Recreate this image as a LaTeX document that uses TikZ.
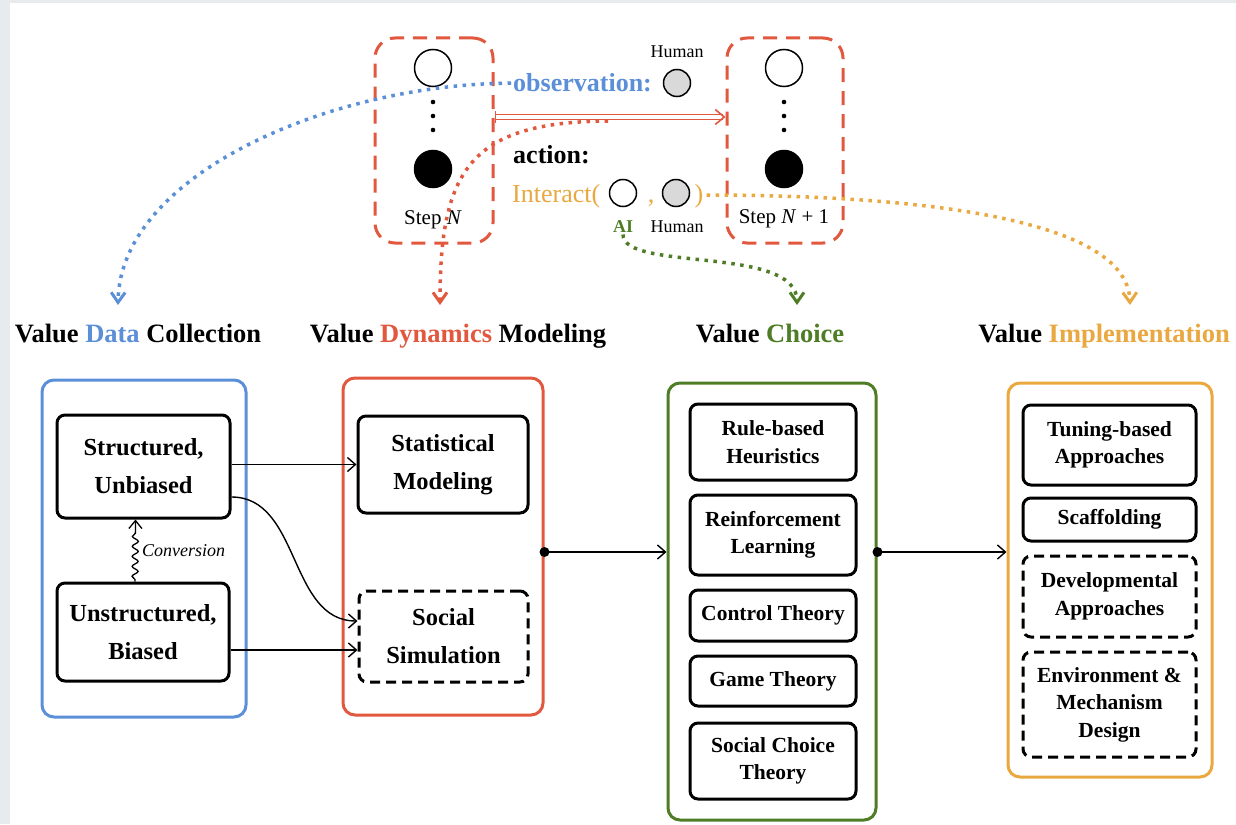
\documentclass[tikz,border=0pt]{standalone}
\usepackage{fontspec}
\setmainfont{Liberation Serif}[
  BoldFont={Liberation Serif Bold},
  ItalicFont={Liberation Serif Italic},
  BoldItalicFont={Liberation Serif Bold Italic}]
\usetikzlibrary{arrows.meta,decorations.pathmorphing}

\definecolor{vblue}{HTML}{5B8FD8}
\definecolor{vred}{HTML}{E2583F}
\definecolor{vgreen}{HTML}{4F7D26}
\definecolor{vorange}{HTML}{E9A840}
\definecolor{hgray}{HTML}{D9D9D9}
\definecolor{edgegray}{HTML}{E8EBEE}

\newcommand{\headfont}{\fontsize{26.5}{30}\selectfont\bfseries}
\newcommand{\bigboxfont}{\fontsize{24.5}{38}\selectfont\bfseries}
\newcommand{\smallboxfont}{\fontsize{21.5}{27.5}\selectfont\bfseries}
\newcommand{\toplabelfont}{\fontsize{26}{30}\selectfont}
\newcommand{\tinylabelfont}{\fontsize{18}{20}\selectfont}
\newcommand{\steplabelfont}{\fontsize{21}{24}\selectfont}

\tikzset{
  container/.style={draw=#1, line width=3pt, rounded corners=12pt, inner sep=0pt},
  item/.style={draw=black, line width=3pt, rounded corners=8pt, align=center, inner sep=0pt},
  dashitem/.style={item, dash pattern=on 10pt off 6pt},
  stepbox/.style={draw=vred, line width=3pt, rounded corners=20pt, dash pattern=on 14pt off 9pt, inner sep=0pt},
  flow/.style={line width=1.4pt, -{Straight Barb[length=8pt,width=14pt]}},
  trace/.style={line width=3.5pt, dash pattern=on 3.5pt off 5.5pt,
    -{Straight Barb[length=10pt,width=14pt,line width=3pt]}},
  state/.style={circle, draw=black, line width=1.5pt, minimum size=37pt, inner sep=0pt},
  agent/.style={circle, draw=black, line width=1.5pt, minimum size=27pt, inner sep=0pt},
}

\begin{document}
\begin{tikzpicture}[x=1pt,y=-1pt]
% page frame
\useasboundingbox (0,0) rectangle (1236,824);
\fill[edgegray] (0,0) rectangle (1236,824);
\fill[white] (10,3) rectangle (1236,824);

% ---------- interaction step ----------
\node[stepbox, minimum width=118pt, minimum height=205pt] (stepA) at (434,140.5) {};
\node[stepbox, minimum width=116pt, minimum height=205pt] (stepB) at (785,140.5) {};

\node[state] (sA) at (433,68) {};
\node[state, fill=black] (tA) at (433,169) {};
\foreach \yy in {102,116,130} \fill (433,\yy) circle (2.3pt);
\node[font=\steplabelfont] (lA) at (433,220) {Step \textit{N}};

\node[state] (sB) at (784,68) {};
\node[state, fill=black] (tB) at (784,169) {};
\foreach \yy in {102,116,130} \fill (784,\yy) circle (2.3pt);
\node[font=\steplabelfont] (lB) at (784,219) {Step \textit{N} + 1};

\draw[vred, line width=1.6pt, double distance=3.5pt,
  {Bar[width=12pt]}-{Straight Barb[length=9pt,width=15pt]}]
  (stepA.east |- 0,117) -- (stepB.west |- 0,117);

\node[font=\tinylabelfont] (hum1) at (677,52) {Human};
\node[agent, fill=hgray] (hc1) at (677,83) {};
\node[font=\toplabelfont\bfseries, text=vblue, anchor=base west, inner sep=0pt] (obs) at (513,92) {observation:};

\node[font=\toplabelfont\bfseries, anchor=base west, inner sep=0pt] (act) at (513,163) {action:};
\node[font=\toplabelfont, text=vorange, anchor=base west, inner sep=0pt] (intr) at (512,202) {Interact(};
\node[agent] (ai) at (623,193) {};
\node[font=\toplabelfont, text=vorange, anchor=base, inner sep=0pt] (comma) at (651,202) {,};
\node[agent, fill=hgray] (hc2) at (676,193) {};
\node[font=\toplabelfont, text=vorange, anchor=base, inner sep=0pt] (close) at (699,202) {)};
\node[font=\tinylabelfont\bfseries, text=vgreen] (ailab) at (623,227) {AI};
\node[font=\tinylabelfont] (hum2) at (677,227) {Human};

% ---------- headings ----------
\node[font=\headfont, anchor=base] (hDC) at (138,342) {Value \textcolor{vblue}{Data} Collection};
\node[font=\headfont, anchor=base] (hDM) at (458,342) {Value \textcolor{vred}{Dynamics} Modeling};
\node[font=\headfont, anchor=base] (hVC) at (770,342) {Value \textcolor{vgreen}{Choice}};
\node[font=\headfont, anchor=base] (hVI) at (1104,342) {Value \textcolor{vorange}{Implementation}};

\coordinate (tipDC) at (118,305);
\coordinate (tipDM) at (440,305);
\coordinate (tipVC) at (797,305);
\coordinate (tipVI) at (1130,305);
\coordinate (dynsrc) at (608,121);

% dotted traces from the step to each stage
\draw[trace, vblue] ([xshift=-2pt]obs.west) .. controls (330,84) and (120,175) .. (tipDC);
\draw[trace, vred] (dynsrc) .. controls (470,122) and (440,170) .. (tipDM);
\draw[trace, vgreen] ([yshift=2pt]ailab.south) .. controls (623,272) and (797,245) .. (tipVC);
\draw[trace, vorange] ([xshift=3pt]close.east |- 0,195) .. controls (900,195) and (1128,215) .. (tipVI);

% ---------- stage containers ----------
\node[container=vblue, minimum width=204pt, minimum height=337pt] (dc) at (144,548.5) {};
\node[container=vred, minimum width=200pt, minimum height=337pt] (dm) at (443,546.5) {};
\node[container=vgreen, minimum width=208pt, minimum height=437pt] (vc) at (772,601.5) {};
\node[container=vorange, minimum width=204pt, minimum height=394pt] (vi) at (1110,580) {};

% data collection
\node[item, font=\bigboxfont, minimum width=173pt, minimum height=103pt] (su) at (143.5,466.5) {Structured,\\Unbiased};
\node[item, font=\bigboxfont, minimum width=172pt, minimum height=98pt] (ub) at (143,632) {Unstructured,\\Biased};

% dynamics modeling
\node[item, font=\bigboxfont, minimum width=170pt, minimum height=97pt] (sm) at (443,464.5) {Statistical\\Modeling};
\node[dashitem, font=\bigboxfont, minimum width=169pt, minimum height=91pt] (ss) at (443.5,636.5) {Social\\Simulation};

% value choice
\node[item, font=\smallboxfont, minimum width=166pt, minimum height=76pt] (rb) at (773,442) {Rule-based\\Heuristics};
\node[item, font=\smallboxfont, minimum width=166pt, minimum height=80pt] (rl) at (773,535) {Reinforcement\\Learning};
\node[item, font=\smallboxfont, minimum width=166pt, minimum height=51pt] (ct) at (773,615.5) {Control Theory};
\node[item, font=\smallboxfont, minimum width=166pt, minimum height=50pt] (gt) at (773,681) {Game Theory};
\node[item, font=\smallboxfont, minimum width=166pt, minimum height=76pt] (sc) at (773,761) {Social Choice\\Theory};

% value implementation
\node[item, font=\smallboxfont, minimum width=173pt, minimum height=80pt] (tb) at (1109.5,445) {Tuning-based\\Approaches};
\node[item, font=\smallboxfont, minimum width=173pt, minimum height=43pt] (sf) at (1109.5,519.5) {Scaffolding};
\node[dashitem, font=\smallboxfont, minimum width=173pt, minimum height=81pt] (da) at (1109.5,596.5) {Developmental\\Approaches};
\node[dashitem, font=\smallboxfont, minimum width=173pt, minimum height=105pt] (em) at (1109.5,704.5) {Environment \&\\Mechanism\\Design};

% ---------- connectors ----------
\draw[flow] (su.east |- sm.west) -- (sm.west);
\draw[flow] (su.east |- 0,497) to[out=0,in=180] (ss.west |- 0,621);
\draw[flow] (ub.east |- 0,650) -- (ss.west |- 0,650);
\draw[line width=1.3pt, decorate,
  decoration={snake, amplitude=3pt, segment length=10pt, pre length=2pt, post length=9pt},
  -{Straight Barb[length=8pt,width=13pt]}]
  ([xshift=-8pt]ub.north) -- ([xshift=-8pt]su.south)
  node[midway, right=3pt, font=\tinylabelfont\itshape] (conv) {Conversion};

\draw[flow] (dm.east |- 0,552) -- (vc.west |- 0,552);
\fill (dm.east |- 0,552) circle (5pt);
\draw[flow] (vc.east |- 0,552) -- (vi.west |- 0,552);
\fill (vc.east |- 0,552) circle (5pt);
\end{tikzpicture}
\end{document}
